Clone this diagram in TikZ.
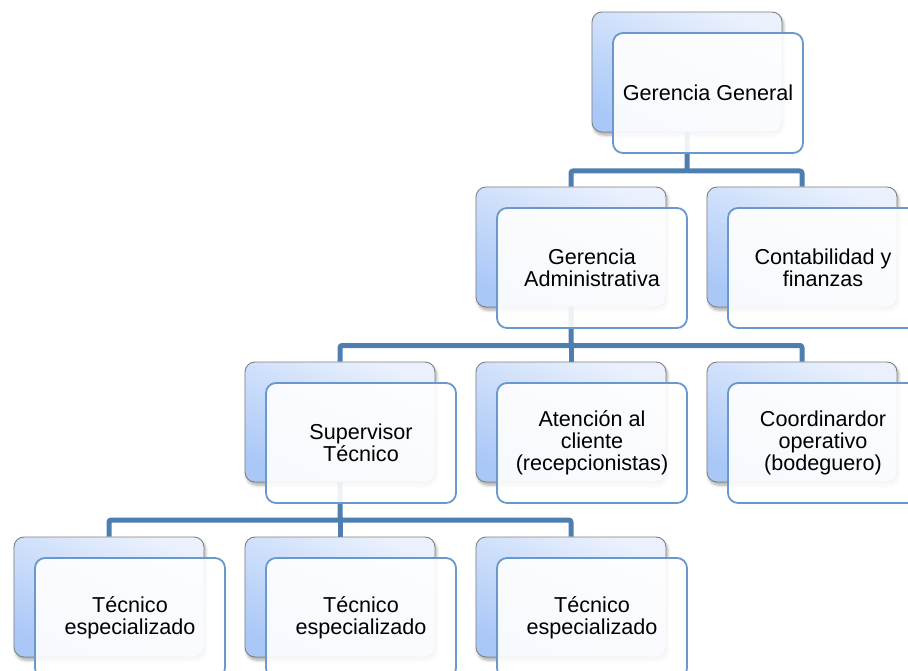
\documentclass[tikz,border=0pt]{standalone}
\usepackage{fontspec}
\setmainfont{Liberation Sans}
\usetikzlibrary{shadows.blur,positioning}

\definecolor{linkblue}{RGB}{78,126,176}
\definecolor{frontedge}{RGB}{104,152,204}
\definecolor{backedge}{RGB}{128,128,128}
\definecolor{backlight}{RGB}{234,241,253}
\definecolor{backdeep}{RGB}{170,200,247}

\pgfdeclarelayer{bg}
\pgfsetlayers{bg,main}

\tikzset{
  backcard/.style={draw=backedge, line width=0.9pt, rounded corners=10pt,
    minimum width=190pt, minimum height=120pt, inner sep=0pt,
    top color=backlight, bottom color=backdeep, shading angle=-25,
    blur shadow={shadow xshift=1.5pt, shadow yshift=-3pt, shadow opacity=35,
      shadow blur steps=6, shadow blur radius=3pt}},
  frontcard/.style={draw=frontedge, line width=1.8pt, rounded corners=10pt,
    minimum width=190pt, minimum height=120pt, inner sep=2pt,
    fill=white, fill opacity=0.9, text opacity=1, align=center,
    font=\fontsize{21.6pt}{21.8pt}\selectfont},
  link/.style={draw=linkblue, line width=5pt, rounded corners=2pt, line join=round}
}

\begin{document}
\begin{tikzpicture}[x=1pt, y=-1pt]
  \useasboundingbox (0,0) rectangle (908,671);

  % back cards (shaded, with shadow)
  \node[backcard] (gg-b) at (687,72)  {};
  \node[backcard] (ga-b) at (571,247) {};
  \node[backcard] (cf-b) at (802,247) {};
  \node[backcard] (st-b) at (340,422) {};
  \node[backcard] (ac-b) at (571,422) {};
  \node[backcard] (co-b) at (802,422) {};
  \node[backcard] (t1-b) at (109,597) {};
  \node[backcard] (t2-b) at (340,597) {};
  \node[backcard] (t3-b) at (571,597) {};

  % front cards carrying the labels
  \node[frontcard] (gg) at (708,93)  {Gerencia General};
  \node[frontcard] (ga) at (592,268) {Gerencia\\Administrativa};
  \node[frontcard] (cf) at (823,268) {Contabilidad y\\finanzas};
  \node[frontcard] (st) at (361,443) {Supervisor\\Técnico};
  \node[frontcard] (ac) at (592,443) {Atención al\\cliente\\(recepcionistas)};
  \node[frontcard] (co) at (823,443) {Coordinardor\\operativo\\(bodeguero)};
  \node[frontcard] (t1) at (130,618) {Técnico\\especializado};
  \node[frontcard] (t2) at (361,618) {Técnico\\especializado};
  \node[frontcard] (t3) at (592,618) {Técnico\\especializado};

  % elbow connectors, behind all cards
  \begin{pgfonlayer}{bg}
    \coordinate (j1) at ([yshift=-99pt]gg-b.center);
    \coordinate (j2) at ([yshift=-98.5pt]ga-b.center);
    \coordinate (j3) at ([yshift=-98pt]st-b.center);
    \path[link] (gg-b.center) -- (j1) -| (ga-b.north);
    \path[link] (j1) -| (cf-b.north);
    \path[link] (ga-b.center) -- (j2) -| (st-b.north);
    \path[link] (j2) -| (ac-b.north);
    \path[link] (j2) -| (co-b.north);
    \path[link] (st-b.center) -- (j3) -| (t1-b.north);
    \path[link] (j3) -| (t2-b.north);
    \path[link] (j3) -| (t3-b.north);
  \end{pgfonlayer}
\end{tikzpicture}
\end{document}
